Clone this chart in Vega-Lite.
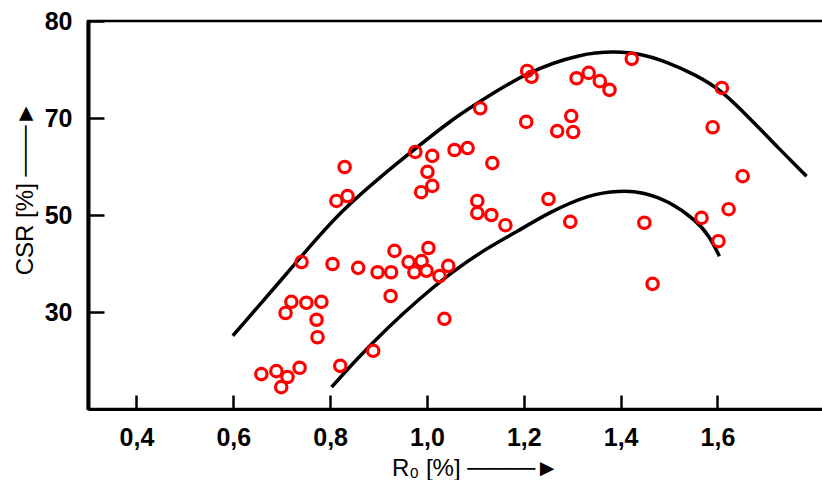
{
  "$schema": "https://vega.github.io/schema/vega-lite/v6.json",
  "width": 736,
  "height": 388,
  "autosize": {"type": "none"},
  "padding": {"left": 88, "top": 21, "right": 0, "bottom": 71},
  "background": "white",
  "config": {
    "view": {"stroke": "black", "strokeWidth": 2.5},
    "font": "Liberation Sans",
    "axis": {
      "grid": false,
      "domainColor": "black",
      "domainWidth": 3,
      "tickColor": "black",
      "tickWidth": 2.5,
      "labelColor": "black",
      "labelFont": "Liberation Sans",
      "labelFontSize": 25,
      "labelFontWeight": "bold",
      "titleFont": "Liberation Sans",
      "titleFontSize": 24,
      "titleFontWeight": "normal",
      "titleColor": "black"
    }
  },
  "datasets": {
    "points": [
      {"R": 0.658, "CSR": 17.2}, {"R": 0.689, "CSR": 17.8}, {"R": 0.712, "CSR": 16.6}, {"R": 0.699, "CSR": 14.5},
      {"R": 0.737, "CSR": 18.5}, {"R": 0.821, "CSR": 18.9}, {"R": 0.889, "CSR": 22.0}, {"R": 0.708, "CSR": 29.8},
      {"R": 0.720, "CSR": 32.1}, {"R": 0.751, "CSR": 31.9}, {"R": 0.782, "CSR": 32.1}, {"R": 0.772, "CSR": 28.4},
      {"R": 0.774, "CSR": 24.8}, {"R": 0.925, "CSR": 33.3}, {"R": 1.036, "CSR": 28.6}, {"R": 0.741, "CSR": 40.3},
      {"R": 0.805, "CSR": 39.9}, {"R": 0.858, "CSR": 39.1}, {"R": 0.898, "CSR": 38.2}, {"R": 0.926, "CSR": 38.2},
      {"R": 0.962, "CSR": 40.3}, {"R": 0.974, "CSR": 38.2}, {"R": 0.999, "CSR": 38.5}, {"R": 1.026, "CSR": 37.4},
      {"R": 1.044, "CSR": 39.5}, {"R": 0.933, "CSR": 42.6}, {"R": 0.989, "CSR": 40.5}, {"R": 1.003, "CSR": 43.2},
      {"R": 0.830, "CSR": 59.9}, {"R": 0.813, "CSR": 52.9}, {"R": 0.836, "CSR": 53.9}, {"R": 0.976, "CSR": 63.0},
      {"R": 1.011, "CSR": 62.2}, {"R": 1.057, "CSR": 63.4}, {"R": 1.084, "CSR": 63.8}, {"R": 1.135, "CSR": 60.7},
      {"R": 1.001, "CSR": 58.9}, {"R": 1.011, "CSR": 56.0}, {"R": 0.988, "CSR": 54.7}, {"R": 1.104, "CSR": 52.9},
      {"R": 1.104, "CSR": 50.4}, {"R": 1.133, "CSR": 50.0}, {"R": 1.162, "CSR": 47.9}, {"R": 1.296, "CSR": 48.6},
      {"R": 1.207, "CSR": 79.7}, {"R": 1.216, "CSR": 78.5}, {"R": 1.110, "CSR": 72.0}, {"R": 1.309, "CSR": 78.2},
      {"R": 1.334, "CSR": 79.3}, {"R": 1.357, "CSR": 77.6}, {"R": 1.377, "CSR": 75.8}, {"R": 1.423, "CSR": 82.2},
      {"R": 1.609, "CSR": 76.2}, {"R": 1.205, "CSR": 69.2}, {"R": 1.298, "CSR": 70.4}, {"R": 1.269, "CSR": 67.3},
      {"R": 1.302, "CSR": 67.1}, {"R": 1.590, "CSR": 68.1}, {"R": 1.652, "CSR": 58.0}, {"R": 1.251, "CSR": 53.3},
      {"R": 1.623, "CSR": 51.2}, {"R": 1.449, "CSR": 48.4}, {"R": 1.466, "CSR": 35.8}, {"R": 1.567, "CSR": 49.4},
      {"R": 1.602, "CSR": 44.6}
    ],
    "curves": [
      {"curve": "upper", "R": 0.599, "CSR": 25.1}, {"curve": "upper", "R": 0.733, "CSR": 40.5},
      {"curve": "upper", "R": 0.820, "CSR": 50.8}, {"curve": "upper", "R": 0.943, "CSR": 61.1},
      {"curve": "upper", "R": 1.053, "CSR": 69.8}, {"curve": "upper", "R": 1.102, "CSR": 72.9},
      {"curve": "upper", "R": 1.205, "CSR": 79.5}, {"curve": "upper", "R": 1.321, "CSR": 83.4},
      {"curve": "upper", "R": 1.391, "CSR": 83.7}, {"curve": "upper", "R": 1.439, "CSR": 83.3},
      {"curve": "upper", "R": 1.495, "CSR": 81.6}, {"curve": "upper", "R": 1.557, "CSR": 78.8},
      {"curve": "upper", "R": 1.610, "CSR": 75.6}, {"curve": "upper", "R": 1.666, "CSR": 70.0},
      {"curve": "upper", "R": 1.722, "CSR": 64.2}, {"curve": "upper", "R": 1.784, "CSR": 58.0},
      {"curve": "lower", "R": 0.803, "CSR": 14.5}, {"curve": "lower", "R": 0.855, "CSR": 20.3},
      {"curve": "lower", "R": 0.916, "CSR": 26.5}, {"curve": "lower", "R": 0.984, "CSR": 32.7},
      {"curve": "lower", "R": 1.046, "CSR": 37.8}, {"curve": "lower", "R": 1.114, "CSR": 42.6},
      {"curve": "lower", "R": 1.185, "CSR": 46.5}, {"curve": "lower", "R": 1.253, "CSR": 50.6},
      {"curve": "lower", "R": 1.336, "CSR": 54.3}, {"curve": "lower", "R": 1.398, "CSR": 55.0},
      {"curve": "lower", "R": 1.445, "CSR": 54.8}, {"curve": "lower", "R": 1.501, "CSR": 52.8},
      {"curve": "lower", "R": 1.557, "CSR": 48.8}, {"curve": "lower", "R": 1.583, "CSR": 45.7},
      {"curve": "lower", "R": 1.604, "CSR": 41.5}
    ]
  },
  "layer": [
    {
      "data": {"name": "curves"},
      "mark": {"type": "line", "color": "black", "strokeWidth": 3.5, "interpolate": "basis"},
      "encoding": {
        "x": {
          "field": "R", "type": "quantitative",
          "scale": {"domain": [0.3, 1.82], "nice": false, "zero": false},
          "axis": {
            "values": [0.4, 0.6, 0.8, 1.0, 1.2, 1.4, 1.6],
            "labelExpr": "replace(format(datum.value, '.1f'), '.', ',')",
            "tickSize": -14,
            "labelPadding": 30,
            "labelFontSize": 25,
            "labelFontWeight": "bold",
            "title": "R₀ [%]  ────►",
            "titleFontSize": 24,
            "titleFontWeight": "normal",
            "titleX": 387,
            "titleY": 59,
            "titleBaseline": "middle",
            "titleAlign": "center"
          }
        },
        "y": {
          "field": "CSR", "type": "quantitative",
          "scale": {"domain": [10, 90], "nice": false, "zero": false},
          "axis": {
            "values": [30, 50, 70, 90],
            "labelExpr": "datum.value == 90 ? '80' : datum.label",
            "tickSize": -16,
            "labelPadding": 32,
            "labelFontSize": 25,
            "labelFontWeight": "bold",
            "domainWidth": 4,
            "title": "CSR [%]  ───►",
            "titleFontSize": 24,
            "titleFontWeight": "normal",
            "titleX": -63,
            "titleY": 167,
            "titleAngle": 270,
            "titleBaseline": "middle",
            "titleAlign": "center"
          }
        },
        "detail": {"field": "curve"}
      }
    },
    {
      "data": {"name": "points"},
      "mark": {"type": "point", "shape": "circle", "filled": false, "color": "#ff0000", "strokeWidth": 3.2, "size": 130, "opacity": 1},
      "encoding": {
        "x": {"field": "R", "type": "quantitative"},
        "y": {"field": "CSR", "type": "quantitative"}
      }
    }
  ]
}
